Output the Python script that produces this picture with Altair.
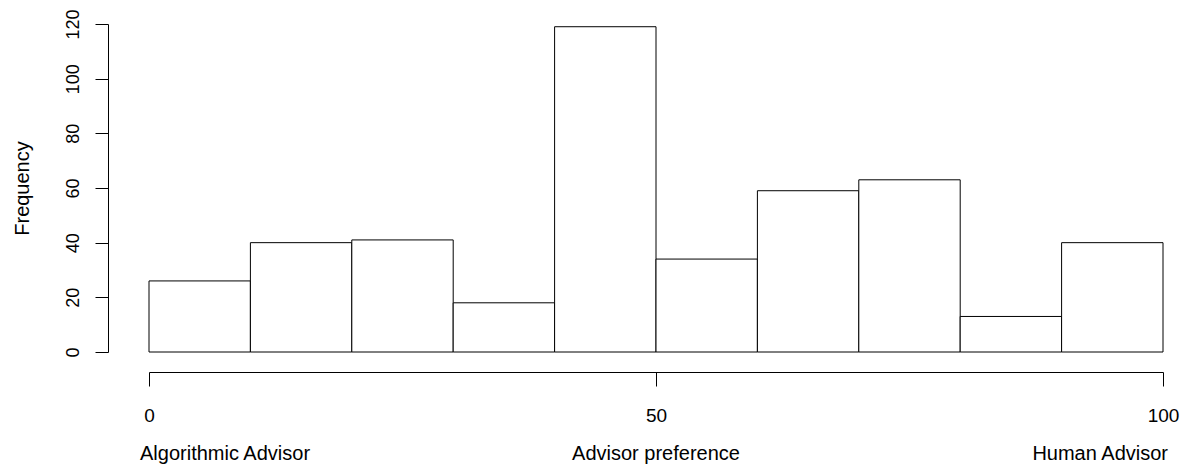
import altair as alt
import pandas as pd

bin_start = [0, 10, 20, 30, 40, 50, 60, 70, 80, 90]
bin_end = [10, 20, 30, 40, 50, 60, 70, 80, 90, 100]
counts = [26, 40, 41, 18, 119, 34, 59, 63, 13, 40]

y_ticks = [0, 20, 40, 60, 80, 100, 120]
x_ticks = [0, 50, 100]

label_text = ["Algorithmic Advisor", "Advisor preference", "Human Advisor"]
label_pos = [0, 50, 100]

FONT = "Liberation Sans"

df = pd.DataFrame({"start": bin_start, "end": bin_end, "count": counts})
lab = pd.DataFrame({"text": label_text, "pos": label_pos})

xscale = alt.Scale(domain=[0, 100], nice=False, zero=False)
yscale = alt.Scale(domain=[0, 120], nice=False)

bars = alt.Chart(df).mark_bar(fill="white", stroke="black", strokeWidth=1).encode(
    x=alt.X("start:Q", scale=xscale,
            axis=alt.Axis(values=x_ticks, title=None, offset=20, tickSize=14,
                          labelPadding=20, labelFontSize=19, labelFont=FONT,
                          grid=False, domainColor="black", tickColor="black",
                          labelColor="black", labelFlush=False)),
    x2="end:Q",
    y=alt.Y("count:Q", scale=yscale,
            axis=alt.Axis(values=y_ticks, title="Frequency", offset=41, tickSize=13,
                          labelAngle=-90, labelAlign="center", labelBaseline="middle",
                          labelPadding=22, labelFontSize=18, labelFont=FONT,
                          titleFont=FONT, titleFontSize=20, titleFontWeight="normal",
                          titleColor="black", titlePadding=32,
                          grid=False, domainColor="black", tickColor="black",
                          labelColor="black")),
    y2=alt.datum(0),
)

def side_label(idx, align, dx):
    return alt.Chart(lab.iloc[[idx]]).mark_text(
        align=align, baseline="middle", fontSize=20, font=FONT, color="black", dx=dx
    ).encode(x=alt.X("pos:Q", scale=xscale), y=alt.value(430), text="text:N")

chart = alt.layer(
    bars,
    side_label(0, "left", -9),
    side_label(1, "center", 0),
    side_label(2, "right", 5),
).properties(
    width=1014, height=328,
    padding={"left": 141, "top": 16, "right": 20, "bottom": 118},
    autosize=alt.AutoSizeParams(type="none"),
).configure(background="white").configure_view(stroke=None, strokeWidth=0)

chart.save("out.html", embed_options={"renderer": "svg", "actions": False})
